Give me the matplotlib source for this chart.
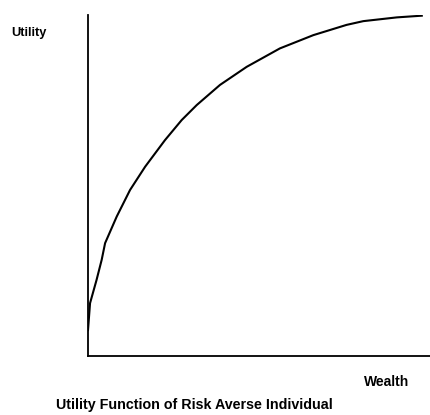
import matplotlib.pyplot as plt

# Curve points (wealth, utility on a 0-100 scale)
wealth = [0, 0.6, 2.5, 4.0, 5.0, 8.4, 12.3, 16.7, 22.5, 27.4, 31.8, 38.6,
          46.4, 56.1, 65.9, 75.6, 80.5, 90.3, 97.6]
utility = [7.6, 15.5, 22.3, 28.2, 33.1, 40.9, 48.7, 55.5, 63.3, 69.2, 73.6, 79.5,
           84.8, 90.2, 94.1, 97.1, 98.2, 99.3, 99.8]

plt.rcParams['font.family'] = ['Liberation Sans', 'DejaVu Sans']

fig = plt.figure(figsize=(4.3, 4.15), dpi=100)
ax = fig.add_axes([88 / 430, 59 / 415, 342 / 430, 341 / 415])

ax.plot(wealth, utility, color="black", linewidth=1.5, solid_joinstyle="round")

ax.set_xlim(0, 100)
ax.set_ylim(0, 100)
ax.spines["top"].set_visible(False)
ax.spines["right"].set_visible(False)
ax.spines["left"].set_linewidth(1.3)
ax.spines["bottom"].set_linewidth(1.3)
ax.set_xticks([])
ax.set_yticks([])

fig.text(11 / 430, 1 - 33 / 415, "Utility", fontsize=9.3, fontweight="bold", va="center", ha="left")
fig.text(387 / 430, 1 - 382 / 415, "Wealth", fontsize=10, fontweight="bold", va="center", ha="center")
fig.text(194 / 430, 1 - 405 / 415, "Utility Function of Risk Averse Individual",
         fontsize=10.3, fontweight="bold", va="center", ha="center")

fig.savefig("out.png", dpi=100)
